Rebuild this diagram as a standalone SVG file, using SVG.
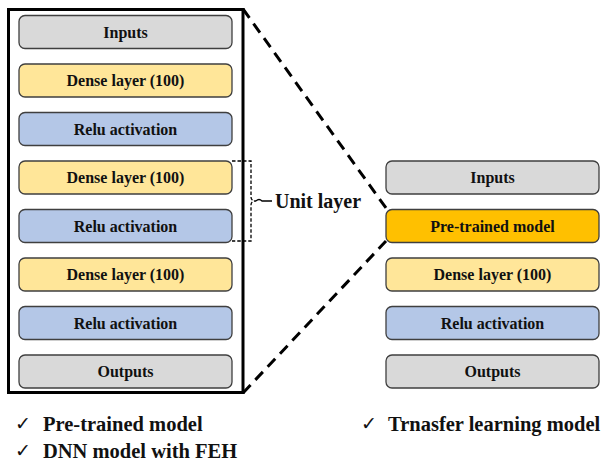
<svg xmlns="http://www.w3.org/2000/svg" width="601" height="461" viewBox="0 0 601 461">
<style>
.b{stroke:#3f3f3f;stroke-width:1.3}
.g{fill:#d9d9d9}.y{fill:#ffe699}.u{fill:#b4c7e7}.o{fill:#ffc000}
.t{font-family:'Liberation Serif','Times New Roman',Tinos,'DejaVu Serif',serif;font-weight:700;font-size:16px;fill:#111;text-anchor:middle}
.l{font-family:'Liberation Serif','Times New Roman',Tinos,'DejaVu Serif',serif;font-weight:700;font-size:20.5px;fill:#111}
.c{font-family:'DejaVu Sans',sans-serif;font-size:19px;fill:#111}
</style>
<rect width="601" height="461" fill="#fff"/>
<g id="connectors">
<rect x="8.5" y="9.5" width="234.5" height="383" fill="none" stroke="#000" stroke-width="3"/>
<line x1="243" y1="9" x2="386" y2="208" stroke="#000" stroke-width="3" stroke-dasharray="11,7"/>
<line x1="243" y1="393" x2="386" y2="241" stroke="#000" stroke-width="3" stroke-dasharray="11,7"/>
<path d="M232,161 H251 V197 Q251,201 256,201 Q251,201 251,205 V241 H232" fill="none" stroke="#000" stroke-width="1.3" stroke-dasharray="3.5,2"/>
<path d="M256,201 Q259,198 262,201 H272" fill="none" stroke="#000" stroke-width="1.3"/>
</g>
<g id="l-inputs"><rect class="b g" x="19" y="15.5" width="213" height="33" rx="6"/><text class="t" x="125.5" y="37.5">Inputs</text></g>
<g id="l-dense1"><rect class="b y" x="19" y="64" width="213" height="33" rx="6"/><text class="t" x="125.5" y="86">Dense layer (100)</text></g>
<g id="l-relu1"><rect class="b u" x="19" y="112.5" width="213" height="33" rx="6"/><text class="t" x="125.5" y="134.5">Relu activation</text></g>
<g id="l-dense2"><rect class="b y" x="19" y="161" width="213" height="33" rx="6"/><text class="t" x="125.5" y="183">Dense layer (100)</text></g>
<g id="l-relu2"><rect class="b u" x="19" y="209.5" width="213" height="33" rx="6"/><text class="t" x="125.5" y="231.5">Relu activation</text></g>
<g id="l-dense3"><rect class="b y" x="19" y="258" width="213" height="33" rx="6"/><text class="t" x="125.5" y="280">Dense layer (100)</text></g>
<g id="l-relu3"><rect class="b u" x="19" y="306.5" width="213" height="33" rx="6"/><text class="t" x="125.5" y="328.5">Relu activation</text></g>
<g id="l-outputs"><rect class="b g" x="19" y="355" width="213" height="33" rx="6"/><text class="t" x="125.5" y="377">Outputs</text></g>
<g id="unit-label"><text class="l" x="275" y="208" style="font-size:20px">Unit layer</text></g>
<g id="r-inputs"><rect class="b g" x="386" y="161" width="213" height="33" rx="6"/><text class="t" x="492.5" y="183">Inputs</text></g>
<g id="r-pretrained"><rect class="b o" x="386" y="209.5" width="213" height="33" rx="6"/><text class="t" x="492.5" y="231.5">Pre-trained model</text></g>
<g id="r-dense"><rect class="b y" x="386" y="258" width="213" height="33" rx="6"/><text class="t" x="492.5" y="280">Dense layer (100)</text></g>
<g id="r-relu"><rect class="b u" x="386" y="306.5" width="213" height="33" rx="6"/><text class="t" x="492.5" y="328.5">Relu activation</text></g>
<g id="r-outputs"><rect class="b g" x="386" y="355" width="213" height="33" rx="6"/><text class="t" x="492.5" y="377">Outputs</text></g>
<g id="legend">
<text class="c" x="15" y="430">✓</text><text class="l" x="43" y="431">Pre-trained model</text>
<text class="c" x="15" y="457">✓</text><text class="l" x="43" y="458">DNN model with FEH</text>
<text class="c" x="361" y="430">✓</text><text class="l" x="388" y="431">Trnasfer learning model</text>
</g>
</svg>
